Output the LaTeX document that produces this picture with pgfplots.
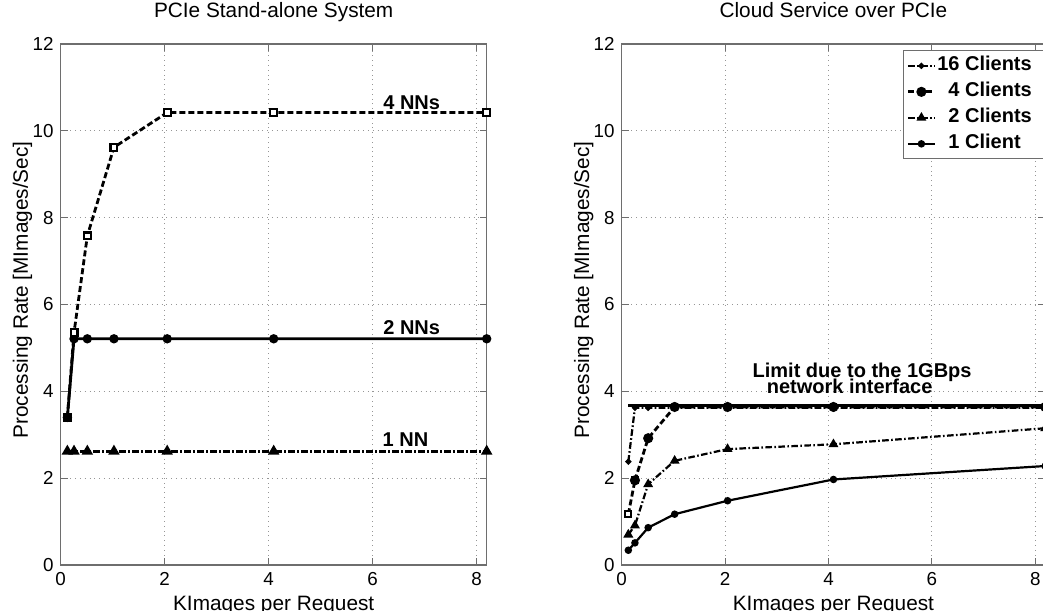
\documentclass[border=0pt]{standalone}
\usepackage{fontspec}
\setmainfont{Liberation Sans}
\usepackage{pgfplots}
\pgfplotsset{compat=1.18}
\definecolor{framegray}{RGB}{110,110,110}
\definecolor{gridgray}{RGB}{150,150,150}
\tikzset{
  mldash/.style={dash pattern=on 3pt off 1.5pt},
  mldashdot/.style={dash pattern=on 3.3pt off 1.2pt on 0.8pt off 1.2pt},
  anno/.style={font=\bfseries\fontsize{10}{12}\selectfont, anchor=base, inner sep=0pt},
}
\pgfplotsset{
  myaxis/.style={
    scale only axis, height=260.5pt,
    xmin=0, xmax=8.192, ymin=0, ymax=12,
    xtick={0,2,4,6,8}, ytick={0,2,4,6,8,10,12},
    grid=major, grid style={dotted, gridgray, line width=0.5pt},
    axis line style={framegray, line width=0.6pt},
    tick style={framegray, line width=0.6pt},
    tick align=inside, major tick length=3.5pt,
    clip=false,
    /pgf/number format/assume math mode=true,
    ticklabel style={font=\fontsize{9.4}{11}\selectfont},
    label style={font=\fontsize{10.4}{12}\selectfont},
    title style={font=\fontsize{10.4}{12}\selectfont, at={(axis description cs:0.5,1.0269)}, anchor=base},
    xlabel style={at={(axis description cs:0.5,-0.0864)}, anchor=base},
    ylabel style={at={(axis description cs:-0.077,0.528)}, anchor=base},
    xlabel={KImages per Request},
    ylabel={Processing Rate [MImages/Sec]},
  },
}
\begin{document}
\begin{tikzpicture}
% ---------------- left axis ----------------
\begin{axis}[myaxis, width=213pt, title={PCIe Stand-alone System}]
% 1 NN
\addplot[black, line width=1.3pt, mldashdot, mark=triangle*, mark size=2pt, mark options={solid}]
 coordinates {(0.128,2.62) (0.256,2.62) (0.512,2.62) (1.024,2.62) (2.048,2.62) (4.096,2.62) (8.192,2.62)};
% 2 NNs
\addplot[black, line width=1.4pt, mark=*, mark size=1.6pt, mark options={solid}]
 coordinates {(0.128,3.4) (0.256,5.21) (0.512,5.21) (1.024,5.21) (2.048,5.21) (4.096,5.21) (8.192,5.21)};
% 4 NNs
\addplot[black, line width=1.4pt, mldash, mark=square*, mark size=1.7pt, mark options={solid, fill=white, line width=1.1pt}]
 coordinates {(0.128,3.4) (0.256,5.35) (0.512,7.58) (1.024,9.62) (2.048,10.42) (4.096,10.42) (8.192,10.42)};
\addplot[black, mark=*, mark size=1.9pt, only marks] coordinates {(0.128,3.4)};
\node[anno] at (axis cs:6.75,10.50) {4 NNs};
\node[anno] at (axis cs:6.75,5.30) {2 NNs};
\node[anno] at (axis cs:6.63,2.72) {1 NN};
\end{axis}
% ---------------- right axis ----------------
\begin{axis}[myaxis, at={(280.5pt,0pt)}, width=211.75pt, title={Cloud Service over PCIe},
  legend style={at={(axis description cs:0.664,0.988)}, anchor=north west,
    draw=framegray, line width=0.6pt, inner xsep=1.5pt, inner ysep=1pt,
    font=\bfseries\fontsize{10}{12}\selectfont,
    nodes={inner sep=0.5pt, text height=8.5pt, text depth=3.5pt}},
  legend cell align=left,
  legend image code/.code={\draw[mark repeat=2, mark phase=2, #1] plot coordinates {(0pt,0pt) (6.75pt,0pt) (13.5pt,0pt)};}
]
% limit line
\addplot[black, line width=1.7pt, forget plot]
 coordinates {(0.128,3.67) (8.192,3.67)};
% 16 Clients
\addplot[black, line width=1.1pt, mldashdot, mark=*, mark size=0.9pt, mark options={solid}]
 coordinates {(0.128,2.38) (0.256,3.62) (0.512,3.62) (1.024,3.62) (2.048,3.62) (4.096,3.62) (8.192,3.62)};
\addlegendentry{\makebox[60pt][l]{16 Clients}}
% 4 Clients
\addplot[black, line width=1.4pt, mldash, mark=*, mark size=1.8pt, mark options={solid}]
 coordinates {(0.256,1.95) (0.512,2.92) (1.024,3.64) (2.048,3.64) (4.096,3.64) (8.192,3.64)};
\addlegendentry{\makebox[60pt][l]{\hphantom{1}4 Clients}}
% 2 Clients
\addplot[black, line width=1.1pt, mldashdot, mark=triangle*, mark size=1.8pt, mark options={solid}]
 coordinates {(0.128,0.70) (0.256,0.91) (0.512,1.86) (1.024,2.40) (2.048,2.67) (4.096,2.78) (8.192,3.15)};
\addlegendentry{\makebox[60pt][l]{\hphantom{1}2 Clients}}
% 1 Client
\addplot[black, line width=1.1pt, mark=*, mark size=1.3pt, mark options={solid}]
 coordinates {(0.128,0.34) (0.256,0.51) (0.512,0.86) (1.024,1.17) (2.048,1.48) (4.096,1.97) (8.192,2.28)};
\addlegendentry{\makebox[60pt][l]{\hphantom{1}1 Client}}
% 4 Clients first point (open square) and its link
\addplot[black, line width=1.4pt, mldash, mark=square*, mark size=1.5pt, mark options={solid, fill=white, line width=0.9pt}, forget plot]
 coordinates {(0.128,1.17) (0.256,1.95)};
\addplot[black, mark=*, mark size=1.8pt, only marks, forget plot] coordinates {(0.256,1.95)};
\node[anno] at (axis cs:4.65,4.33) {Limit due to the 1GBps};
\node[anno] at (axis cs:4.41,3.96) {network interface};
\end{axis}
\pgfresetboundingbox
\useasboundingbox (-30.35pt,-22.5pt) rectangle (491.15pt,282.5pt);
\end{tikzpicture}
\end{document}
